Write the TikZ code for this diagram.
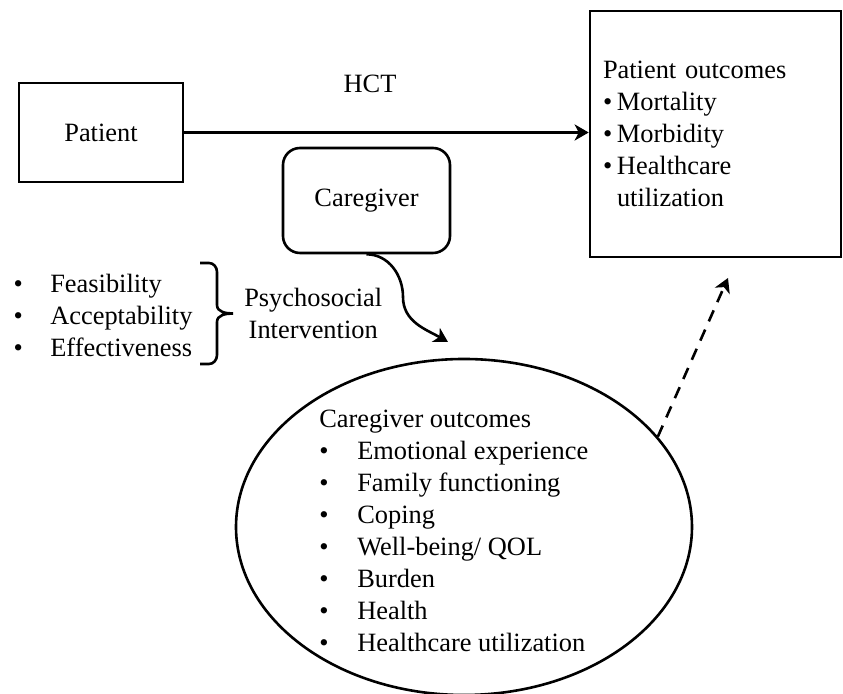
\documentclass[tikz,border=0pt]{standalone}
\usepackage{fontspec}
\setmainfont{Liberation Serif}
\usetikzlibrary{arrows.meta}
\usetikzlibrary{positioning}
\usetikzlibrary{shapes.geometric}

\begin{document}
\begin{tikzpicture}[x=0.5pt,y=-0.5pt,line width=1.3pt,
  font=\fontsize{13.2}{16}\selectfont,
  >={Stealth[length=7pt,width=8pt,inset=2pt]},
  box/.style={draw,rectangle,inner sep=0pt},
  item/.style={align=left,inner sep=0pt,anchor=west}]
  \useasboundingbox (0,0) rectangle (843,694);

  \node (pat) at (101,132.5)[box,minimum width=82pt,minimum height=49.5pt]{Patient};
  \node (hct) at (370,84){HCT};
  \node (pout) at (715.5,134)[box,minimum width=125.5pt,minimum height=123pt,
    text width=112.5pt,inner xsep=6.5pt,align=left]{Patient outcomes\\
    \makebox[7pt][l]{\textbullet}Mortality\\
    \makebox[7pt][l]{\textbullet}Morbidity\\
    \makebox[7pt][l]{\textbullet}Healthcare\\
    \hspace*{7pt}utilization};
  \node (cg) at (366.5,200.5)[box,rounded corners=8.5pt,minimum width=83.5pt,minimum height=52.5pt]{Caregiver};

  \node (cgout) at (464,527)[draw,ellipse,minimum width=228pt,minimum height=168pt,inner sep=0pt]{};
  \node (cglist) at (318,531)[item]{Caregiver outcomes\\
    \makebox[19pt][l]{\textbullet}Emotional experience\\
    \makebox[19pt][l]{\textbullet}Family functioning\\
    \makebox[19pt][l]{\textbullet}Coping\\
    \makebox[19pt][l]{\textbullet}Well-being/ QOL\\
    \makebox[19pt][l]{\textbullet}Burden\\
    \makebox[19pt][l]{\textbullet}Health\\
    \makebox[19pt][l]{\textbullet}Healthcare utilization};

  \node (eval) at (12.4,315)[item]{\makebox[18.3pt][l]{\textbullet}Feasibility\\
    \makebox[18.3pt][l]{\textbullet}Acceptability\\
    \makebox[18.3pt][l]{\textbullet}Effectiveness};
  \coordinate (btop) at (200,263);
  \coordinate (bbot) at (200,364);
  \coordinate (btip) at (233,313.5);
  \draw (btop) -- ++(9,0) to[out=0,in=90] ++(8,9) -- (217,305) to[out=-90,in=180] (btip)
    to[out=180,in=90] (217,322) -- (217,355) to[out=-90,in=0] ++(-8,9) -- (bbot);
  \node[right=5pt of btip,align=center,inner sep=0pt] (psy) {Psychosocial\\Intervention};

  \coordinate (bend) at (403,297);
  \coordinate (cgend) at (448,342);
  \coordinate (tip) at (728,278);
  \draw[->] (pat.east) -- (pat.east -| pout.west);
  \draw[->] (cg.south) to[out=0,in=90] (bend) to[out=-90,in=150] (cgend);
  \draw[->,dash pattern=on 6pt off 4.5pt] (cgout.25) -- (tip);
\end{tikzpicture}
\end{document}
